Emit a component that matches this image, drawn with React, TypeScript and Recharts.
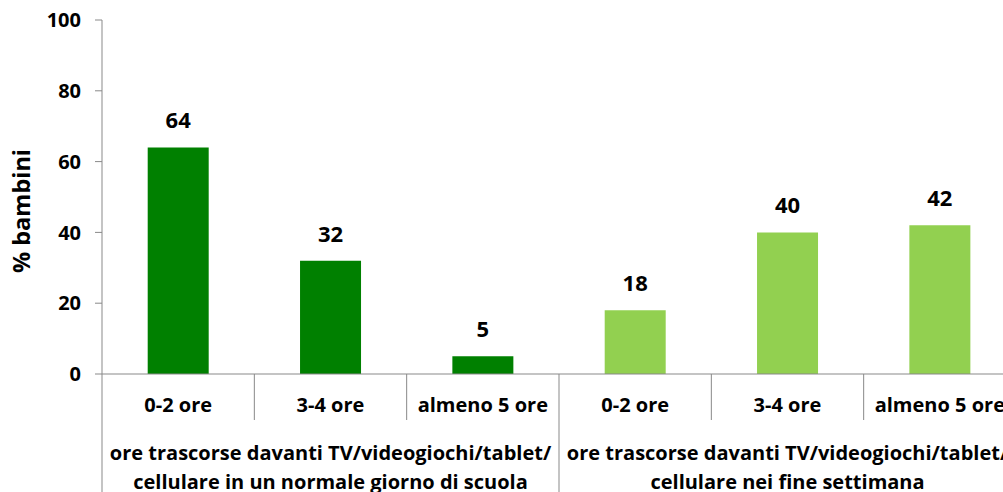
import React from 'react';
import { BarChart, Bar, XAxis, YAxis, Cell, LabelList } from 'recharts';

const categories = ['0-2 ore', '3-4 ore', 'almeno 5 ore', '0-2 ore', '3-4 ore', 'almeno 5 ore'];
const values = [64, 32, 5, 18, 40, 42];
const groupOf = [0, 0, 0, 1, 1, 1];
const groupLabels = [
  ['ore trascorse davanti TV/videogiochi/tablet/', 'cellulare in un normale giorno di scuola'],
  ['ore trascorse davanti TV/videogiochi/tablet/', 'cellulare nei fine settimana'],
];
const yTicks = [0, 20, 40, 60, 80, 100];
const yLabel = '% bambini';

const groupColors = ['#008000', '#92D050'];
const FONT = '"Open Sans", Lato, sans-serif';
const AXIS = '#898989';
const X_AXIS_H = 118;
const TXT = 20;

const data = categories.map((c, i) => ({ key: `c${i}`, label: c, value: values[i], group: groupOf[i] }));

function CatTick(props: any) {
  const { x, y, payload } = props;
  const i: number = payload?.index ?? props.index ?? 0;
  const half: number = payload?.offset ? payload.offset : 76.2;
  const left = x - half;
  const g = groupOf[i];
  const isStart = i === 0 || groupOf[i - 1] !== g;
  const isLast = i === categories.length - 1;
  const count = groupOf.filter((v) => v === g).length;
  return (
    <g>
      <line x1={left} y1={y} x2={left} y2={y + (isStart ? X_AXIS_H : 46)} stroke={AXIS} strokeWidth={1} />
      {isLast && <line x1={x + half} y1={y} x2={x + half} y2={y + X_AXIS_H} stroke={AXIS} strokeWidth={1} />}
      <text x={x} y={y + 38} textAnchor="middle" fontFamily={FONT} fontWeight={700} fontSize={TXT} fill="#000">
        {categories[i]}
      </text>
      {isStart && (
        <text textAnchor="middle" fontFamily={FONT} fontWeight={700} fontSize={TXT} fill="#000">
          <tspan x={left + count * half} y={y + 86}>{groupLabels[g][0]}</tspan>
          <tspan x={left + count * half} y={y + 115}>{groupLabels[g][1]}</tspan>
        </text>
      )}
    </g>
  );
}

function YLabel(props: any) {
  const vb = props.viewBox || { x: 0, y: 20, width: 102, height: 354 };
  const cx = vb.x + 21;
  const cy = vb.y + vb.height / 2 + 14;
  return (
    <text
      x={cx}
      y={cy}
      transform={`rotate(-90, ${cx}, ${cy})`}
      textAnchor="middle"
      dominantBaseline="central"
      fontFamily={FONT}
      fontWeight={700}
      fontSize={23.5}
      fill="#000"
    >
      {yLabel}
    </text>
  );
}

export default function App() {
  return (
    <div style={{ position: 'absolute', left: 0, top: 0, width: 1003, height: 492, overflow: 'hidden', background: '#fff' }}>
      <BarChart width={1020} height={492} data={data} margin={{ top: 20, right: 4, left: 0, bottom: 0 }} barCategoryGap="30%">
        <XAxis
          dataKey="key"
          height={X_AXIS_H}
          tickSize={0}
          tickMargin={0}
          tickLine={false}
          axisLine={{ stroke: AXIS }}
          tick={<CatTick />}
          interval={0}
        />
        <YAxis
          width={102}
          domain={[0, 100]}
          ticks={yTicks}
          tickSize={7}
          tickMargin={14}
          axisLine={{ stroke: AXIS }}
          tickLine={{ stroke: AXIS }}
          tick={{ fill: '#000', fontSize: TXT, fontWeight: 700, fontFamily: FONT }}
          label={<YLabel />}
        />
        <Bar dataKey="value" isAnimationActive={false}>
          {data.map((d) => (
            <Cell key={d.key} fill={groupColors[d.group]} />
          ))}
          <LabelList dataKey="value" position="top" offset={19} fill="#000" fontSize={22} fontWeight={700} fontFamily={FONT} />
        </Bar>
      </BarChart>
    </div>
  );
}
